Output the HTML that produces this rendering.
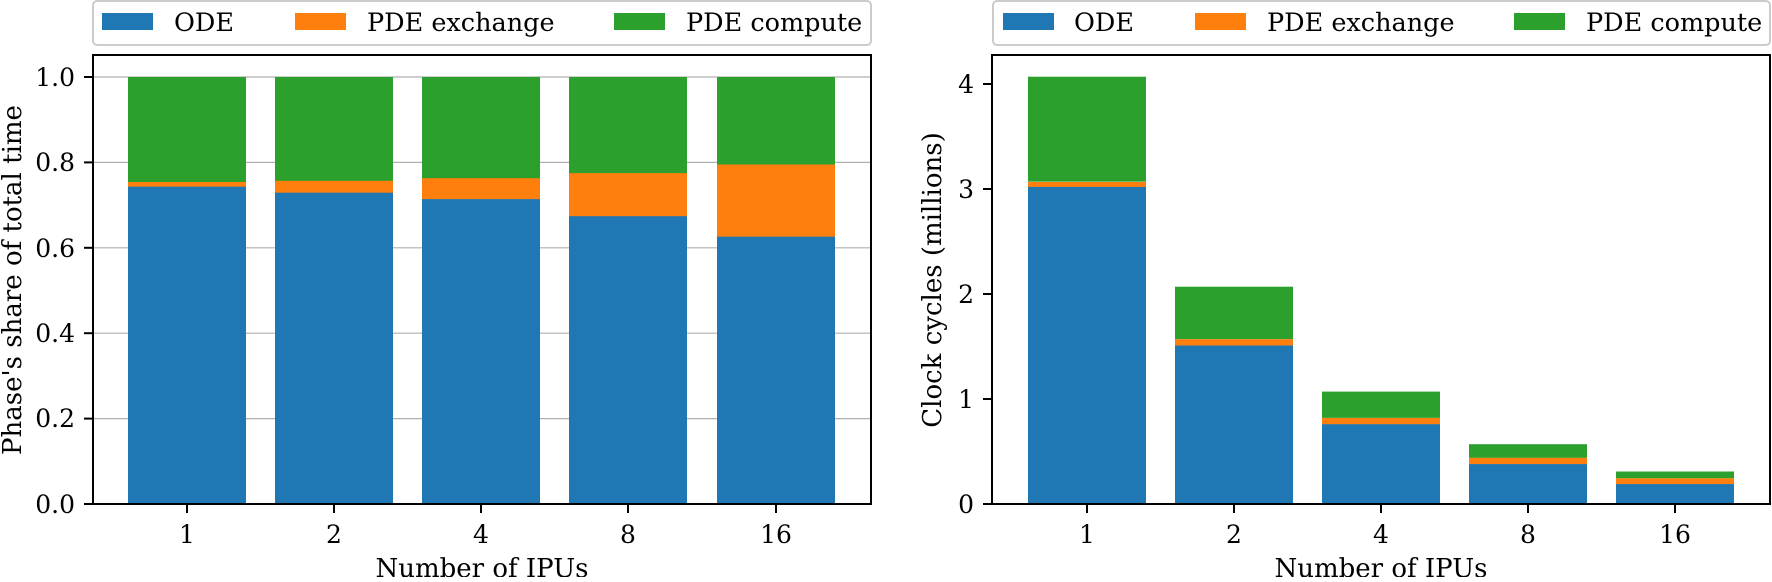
<!DOCTYPE html>
<html><head><meta charset="utf-8"><style>
html,body{margin:0;padding:0;background:#fff;}
svg text{font-family:"DejaVu Serif",serif;fill:#000;}
</style></head><body>
<svg width="1772" height="577" xmlns="http://www.w3.org/2000/svg">
<g stroke="#b0b0b0" stroke-width="1.2">
<line x1="93" x2="871" y1="418.6" y2="418.6"/>
<line x1="93" x2="871" y1="333.2" y2="333.2"/>
<line x1="93" x2="871" y1="247.8" y2="247.8"/>
<line x1="93" x2="871" y1="162.4" y2="162.4"/>
<line x1="93" x2="871" y1="77" y2="77"/>
</g>
<g>
<rect x="128" y="77" width="118" height="112.8" fill="#2ca02c"/>
<rect x="128" y="182" width="118" height="7.8" fill="#ff7f0e"/>
<rect x="128" y="186.7" width="118" height="317.3" fill="#1f77b4"/>
<rect x="275" y="77" width="118" height="114" fill="#2ca02c"/>
<rect x="275" y="180.8" width="118" height="12.2" fill="#ff7f0e"/>
<rect x="275" y="192.7" width="118" height="311.3" fill="#1f77b4"/>
<rect x="422" y="77" width="118" height="111" fill="#2ca02c"/>
<rect x="422" y="178.2" width="118" height="21.5" fill="#ff7f0e"/>
<rect x="422" y="199.1" width="118" height="304.9" fill="#1f77b4"/>
<rect x="569" y="77" width="118" height="98" fill="#2ca02c"/>
<rect x="569" y="173.1" width="118" height="43.5" fill="#ff7f0e"/>
<rect x="569" y="216.2" width="118" height="287.8" fill="#1f77b4"/>
<rect x="717" y="77" width="118" height="90" fill="#2ca02c"/>
<rect x="717" y="164.5" width="118" height="72.6" fill="#ff7f0e"/>
<rect x="717" y="236.7" width="118" height="267.3" fill="#1f77b4"/>
</g>
<rect x="93" y="55" width="778" height="449" fill="none" stroke="#000" stroke-width="2"/>
<g stroke="#000" stroke-width="2">
<line x1="84" x2="93" y1="504" y2="504"/><line x1="84" x2="93" y1="418.6" y2="418.6"/>
<line x1="84" x2="93" y1="333.2" y2="333.2"/><line x1="84" x2="93" y1="247.8" y2="247.8"/>
<line x1="84" x2="93" y1="162.4" y2="162.4"/><line x1="84" x2="93" y1="77" y2="77"/>
<line x1="187" x2="187" y1="504" y2="513"/><line x1="334" x2="334" y1="504" y2="513"/>
<line x1="481" x2="481" y1="504" y2="513"/><line x1="628" x2="628" y1="504" y2="513"/>
<line x1="776" x2="776" y1="504" y2="513"/>
</g>
<g font-size="25" text-anchor="end">
<text x="75" y="513">0.0</text><text x="75" y="427">0.2</text><text x="75" y="342">0.4</text>
<text x="75" y="257">0.6</text><text x="75" y="171">0.8</text><text x="75" y="86">1.0</text>
</g>
<g font-size="25" text-anchor="middle">
<text x="187" y="543">1</text><text x="334" y="543">2</text><text x="481" y="543">4</text>
<text x="628" y="543">8</text><text x="776" y="543">16</text>
<text x="482" y="577" font-size="26">Number of IPUs</text>
<text transform="translate(21,280) rotate(-90)" font-size="26">Phase's share of total time</text>
</g>
<rect x="93" y="1" width="778" height="44" rx="4" fill="#fff" stroke="#cccccc" stroke-width="2"/>
<rect x="102" y="13" width="51" height="17" fill="#1f77b4"/><text x="174" y="31" font-size="25.5">ODE</text>
<rect x="295" y="13" width="51" height="17" fill="#ff7f0e"/><text x="367" y="31" font-size="25.5">PDE exchange</text>
<rect x="614" y="13" width="51" height="17" fill="#2ca02c"/><text x="686" y="31" font-size="25.5">PDE compute</text>

<g>
<rect x="1028" y="76.7" width="118" height="105" fill="#2ca02c"/>
<rect x="1028" y="182" width="118" height="5" fill="#ff7f0e"/>
<rect x="1028" y="186.9" width="118" height="317.1" fill="#1f77b4"/>
<rect x="1175" y="286.7" width="118" height="52.5" fill="#2ca02c"/>
<rect x="1175" y="339.2" width="118" height="6.5" fill="#ff7f0e"/>
<rect x="1175" y="345.5" width="118" height="158.5" fill="#1f77b4"/>
<rect x="1322" y="391.6" width="118" height="26.3" fill="#2ca02c"/>
<rect x="1322" y="418" width="118" height="6.4" fill="#ff7f0e"/>
<rect x="1322" y="424.2" width="118" height="79.8" fill="#1f77b4"/>
<rect x="1469" y="444.2" width="118" height="13.7" fill="#2ca02c"/>
<rect x="1469" y="457.8" width="118" height="6.5" fill="#ff7f0e"/>
<rect x="1469" y="464.1" width="118" height="39.9" fill="#1f77b4"/>
<rect x="1616" y="471.5" width="118" height="6.8" fill="#2ca02c"/>
<rect x="1616" y="478.3" width="118" height="6" fill="#ff7f0e"/>
<rect x="1616" y="484.1" width="118" height="19.9" fill="#1f77b4"/>
</g>
<rect x="992" y="55" width="778" height="449" fill="none" stroke="#000" stroke-width="2"/>
<g stroke="#000" stroke-width="2">
<line x1="983" x2="992" y1="504" y2="504"/><line x1="983" x2="992" y1="399" y2="399"/>
<line x1="983" x2="992" y1="294" y2="294"/><line x1="983" x2="992" y1="189" y2="189"/>
<line x1="983" x2="992" y1="84" y2="84"/>
<line x1="1087" x2="1087" y1="504" y2="513"/><line x1="1234" x2="1234" y1="504" y2="513"/>
<line x1="1381" x2="1381" y1="504" y2="513"/><line x1="1528" x2="1528" y1="504" y2="513"/>
<line x1="1675" x2="1675" y1="504" y2="513"/>
</g>
<g font-size="25" text-anchor="end">
<text x="974" y="513">0</text><text x="974" y="408">1</text><text x="974" y="303">2</text>
<text x="974" y="198">3</text><text x="974" y="93">4</text>
</g>
<g font-size="25" text-anchor="middle">
<text x="1087" y="543">1</text><text x="1234" y="543">2</text><text x="1381" y="543">4</text>
<text x="1528" y="543">8</text><text x="1675" y="543">16</text>
<text x="1381" y="577" font-size="26">Number of IPUs</text>
<text transform="translate(941,280) rotate(-90)" font-size="26">Clock cycles (millions)</text>
</g>
<rect x="993" y="1" width="777" height="44" rx="4" fill="#fff" stroke="#cccccc" stroke-width="2"/>
<rect x="1003" y="13" width="51" height="17" fill="#1f77b4"/><text x="1074" y="31" font-size="25.5">ODE</text>
<rect x="1195" y="13" width="51" height="17" fill="#ff7f0e"/><text x="1267" y="31" font-size="25.5">PDE exchange</text>
<rect x="1514" y="13" width="51" height="17" fill="#2ca02c"/><text x="1586" y="31" font-size="25.5">PDE compute</text>
</svg>
</body></html>
